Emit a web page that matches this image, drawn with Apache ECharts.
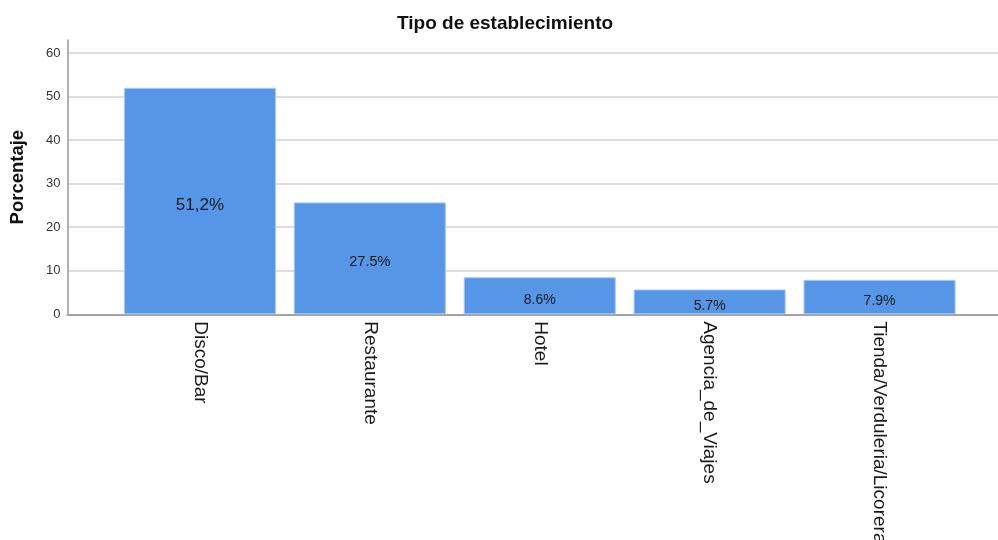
<!DOCTYPE html>
<html>
<head>
<meta charset="utf-8">
<script src="https://cdn.jsdelivr.net/npm/echarts@6/dist/echarts.min.js"></script>
<style>
html,body{margin:0;padding:0;background:#fff;}
#chart{width:998px;height:540px;}
</style>
</head>
<body>
<div id="chart"></div>
<script>
const titleText = 'Tipo de establecimiento';
const yAxisName = 'Porcentaje';
const categories = ['Disco/Bar', 'Restaurante', 'Hotel', 'Agencia_de_Viajes', 'Tienda/Verduleria/Licorera'];
const values = [52.0, 25.7, 8.5, 5.7, 7.9];
const barLabels = ['51,2%', '27.5%', '8.6%', '5.7%', '7.9%'];
const barLabelSizes = [17, 14.5, 14, 14, 14];
const yMin = 0, yMax = 63, yInterval = 10;

const font = 'Liberation Sans, Arial, sans-serif';
const chart = echarts.init(document.getElementById('chart'), null, {renderer: 'canvas'});

const option = {
  animation: false,
  backgroundColor: '#ffffff',
  title: {
    text: titleText,
    left: 392,
    top: 9,
    textStyle: {fontFamily: font, fontSize: 19, fontWeight: 'bold', color: '#111'}
  },
  grid: [
    {left: 67.5, right: 0, top: 40, bottom: 225.7, containLabel: false, outerBoundsMode: 'none'},
    {left: 115, right: 33.5, top: 40, bottom: 225.7, containLabel: false, outerBoundsMode: 'none'}
  ],
  xAxis: [
    {
      gridIndex: 0, type: 'value', min: 0, max: 1,
      axisLine: {show: true, lineStyle: {color: '#a3a3a3', width: 2}},
      axisTick: {show: false}, axisLabel: {show: false}, splitLine: {show: false}
    },
    {
      gridIndex: 1, type: 'category', data: categories,
      axisLine: {show: false}, axisTick: {show: false},
      axisLabel: {
        rotate: -90, margin: 7, fontFamily: font, fontSize: 19, color: '#1a1a1a',
        interval: 0
      }
    }
  ],
  yAxis: [
    {
      gridIndex: 0, type: 'value', min: yMin, max: yMax, interval: yInterval,
      name: yAxisName, nameLocation: 'middle', nameGap: 40,
      nameTextStyle: {fontFamily: font, fontSize: 18.5, fontWeight: 'bold', color: '#111'},
      axisLine: {show: true, lineStyle: {color: '#9a9a9a', width: 1.5}},
      axisTick: {show: false},
      axisLabel: {fontFamily: font, fontSize: 13, color: '#333', margin: 7, showMaxLabel: false},
      splitLine: {show: true, showMaxLine: false, lineStyle: {color: '#d2d2d2', width: 1.5}}
    },
    {
      gridIndex: 1, type: 'value', min: yMin, max: yMax, interval: yInterval,
      show: false
    }
  ],
  series: [
    {
      type: 'bar',
      xAxisIndex: 1, yAxisIndex: 1,
      barWidth: 152,
      z: 1,
      data: values.map((v, i) => ({
        value: v,
        label: {formatter: barLabels[i], fontSize: barLabelSizes[i]}
      })),
      itemStyle: {color: '#5596e6', borderColor: '#a4c6f1', borderWidth: 1},
      label: {
        show: true, position: 'inside', offset: [0, 4],
        fontFamily: font, color: '#1a1a1a'
      }
    }
  ]
};
chart.setOption(option);
</script>
</body>
</html>
